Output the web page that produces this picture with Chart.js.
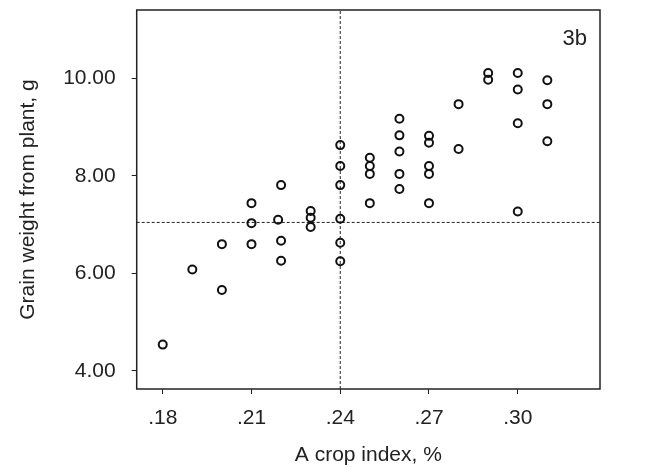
<!DOCTYPE html>
<html>
<head>
<meta charset="utf-8">
<script src="https://cdn.jsdelivr.net/npm/chart.js@4/dist/chart.umd.min.js"></script>
<style>
  html, body { margin: 0; padding: 0; background: #fff; }
  #wrap { width: 647px; height: 468px; }
</style>
</head>
<body>
<div id="wrap"><canvas id="scatter"></canvas></div>
<script>
// crop index (x) and grain weight (y)
const cropIndex = [
    0.18, 0.19, 0.20, 0.20,
    0.21, 0.21, 0.21,
    0.22, 0.219, 0.22, 0.22,
    0.23, 0.23, 0.23,
    0.24, 0.24, 0.24, 0.24, 0.24, 0.24,
    0.25, 0.25, 0.25, 0.25,
    0.26, 0.26, 0.26, 0.26, 0.26,
    0.27, 0.27, 0.27, 0.27, 0.27,
    0.28, 0.28,
    0.29, 0.29,
    0.30, 0.30, 0.30, 0.30,
    0.31, 0.31, 0.31
];
const grainWeight = [
    4.54, 6.08, 6.60, 5.66,
    7.44, 7.03, 6.60,
    7.81, 7.10, 6.67, 6.26,
    7.28, 7.14, 6.95,
    8.63, 8.20, 7.81, 7.12, 6.63, 6.25,
    8.37, 8.20, 8.04, 7.44,
    9.17, 8.83, 8.50, 8.04, 7.73,
    8.82, 8.68, 8.20, 8.04, 7.44,
    9.47, 8.55,
    10.11, 9.97,
    10.11, 9.77, 9.08, 7.27,
    9.96, 9.47, 8.71
];
const xTicks = [0.18, 0.21, 0.24, 0.27, 0.30];
const yTicks = [4, 6, 8, 10];
const meanX = 0.24;
const meanY = 7.045;
const xRange = [0.1712, 0.3278];
const yRange = [3.63, 11.40];

const fontFamily = "'Liberation Sans Narrow', 'Arial Narrow', 'Liberation Sans', sans-serif";
const textColor = '#222';

const points = cropIndex.map((x, i) => ({ x: x, y: grainWeight[i] }));

// box around the plot plus the panel tag
const framePlugin = {
    id: 'frame',
    afterDraw(chart) {
        const { ctx, chartArea } = chart;
        ctx.save();
        ctx.strokeStyle = '#222';
        ctx.lineWidth = 1.5;
        ctx.strokeRect(chartArea.left, chartArea.top, chartArea.right - chartArea.left, chartArea.bottom - chartArea.top);
        ctx.fillStyle = textColor;
        ctx.font = "22px " + fontFamily;
        ctx.textAlign = 'right';
        ctx.textBaseline = 'alphabetic';
        ctx.fillText('3b', chartArea.right - 13, chartArea.top + 35);
        ctx.restore();
    }
};

new Chart(document.getElementById('scatter'), {
    type: 'scatter',
    data: {
        datasets: [
            {
                label: 'plants',
                data: points,
                pointStyle: 'circle',
                pointRadius: 4,
                pointBorderWidth: 2,
                pointBorderColor: '#111',
                pointBackgroundColor: 'rgba(255,255,255,0)',
                showLine: false
            },
            {
                label: 'mean x',
                type: 'line',
                data: [{ x: meanX, y: yRange[0] }, { x: meanX, y: yRange[1] }],
                borderColor: '#222',
                borderWidth: 1,
                borderDash: [3, 2],
                pointRadius: 0,
                fill: false
            },
            {
                label: 'mean y',
                type: 'line',
                data: [{ x: xRange[0], y: meanY }, { x: xRange[1], y: meanY }],
                borderColor: '#222',
                borderWidth: 1,
                borderDash: [3, 2],
                pointRadius: 0,
                fill: false
            }
        ]
    },
    options: {
        responsive: true,
        maintainAspectRatio: false,
        animation: false,
        layout: { padding: { top: 10, right: 47, bottom: 0, left: 0 } },
        plugins: {
            legend: { display: false },
            tooltip: { enabled: false }
        },
        scales: {
            x: {
                type: 'linear',
                min: xRange[0],
                max: xRange[1],
                afterBuildTicks: (scale) => { scale.ticks = xTicks.map(v => ({ value: v })); },
                afterFit: (scale) => {
                    scale.height = 79;
                    scale.paddingLeft = 0;
                    scale.paddingRight = 0;
                },
                grid: { drawOnChartArea: false, drawTicks: true, tickLength: 5, tickColor: '#222' },
                border: { display: false },
                ticks: {
                    color: textColor,
                    padding: 12,
                    font: { family: fontFamily, size: 21 },
                    callback: (v) => v.toFixed(2).replace(/^0/, '')
                },
                title: {
                    display: true,
                    text: 'A crop index, %',
                    color: textColor,
                    padding: { top: 0, bottom: 0 },
                    font: { family: fontFamily, size: 21 }
                }
            },
            y: {
                type: 'linear',
                min: yRange[0],
                max: yRange[1],
                afterBuildTicks: (scale) => { scale.ticks = yTicks.map(v => ({ value: v })); },
                afterFit: (scale) => {
                    scale.width = 136.7;
                    scale.paddingTop = 0;
                    scale.paddingBottom = 0;
                },
                grid: { drawOnChartArea: false, drawTicks: true, tickLength: 5, tickColor: '#222' },
                border: { display: false },
                ticks: {
                    color: textColor,
                    padding: 16,
                    font: { family: fontFamily, size: 21 },
                    callback: (v) => v.toFixed(2)
                },
                title: {
                    display: true,
                    text: 'Grain weight from plant, g',
                    color: textColor,
                    padding: { top: 16, bottom: 0 },
                    font: { family: fontFamily, size: 21 }
                }
            }
        }
    },
    plugins: [framePlugin]
});
</script>
</body>
</html>
